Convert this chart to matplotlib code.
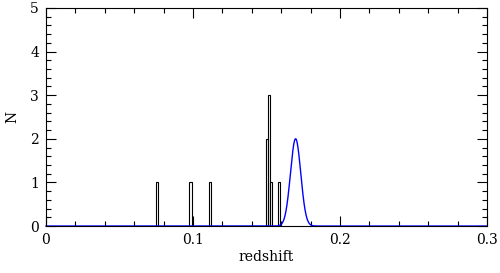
"""Redshift histogram with Gaussian fit."""

import matplotlib
matplotlib.use("Agg")
import matplotlib.pyplot as plt
import numpy as np
from matplotlib.ticker import MultipleLocator

# Histogram bins (left edge in redshift) and counts
bin_left = [0.0745, 0.0975, 0.1110, 0.1495, 0.1510, 0.1525, 0.1580]
counts = [1, 1, 1, 2, 3, 1, 1]
bin_width = 0.0015

# Gaussian fit to the main peak
fit_mean = 0.1698
fit_sigma = 0.0035
fit_amp = 2.0

x_ticks = [0, 0.1, 0.2, 0.3]
x_labels = ["0", "0.1", "0.2", "0.3"]
y_ticks = [0, 1, 2, 3, 4, 5]

plt.rcParams.update({
    "font.family": "DejaVu Serif",
    "font.size": 10,
})

fig = plt.figure(figsize=(5, 2.73), dpi=100)
ax = fig.add_axes([0.092, 0.172, 0.882, 0.799])

ax.bar(bin_left, counts, width=bin_width, align="edge", fill=False,
       edgecolor="black", linewidth=0.8)

z = np.linspace(0, 0.3, 3000)
model = fit_amp * np.exp(-0.5 * ((z - fit_mean) / fit_sigma) ** 2)
ax.plot(z, model, color="#0000ff", linewidth=1.0, clip_on=False)

ax.set_xlim(0, 0.3)
ax.set_ylim(0, 5)
ax.set_xticks(x_ticks, x_labels)
ax.set_yticks(y_ticks)
ax.xaxis.set_minor_locator(MultipleLocator(0.02))
ax.yaxis.set_minor_locator(MultipleLocator(0.2))
ax.tick_params(which="both", direction="in", top=True, right=True, width=0.8)
ax.tick_params(which="major", length=7, pad=5)
ax.tick_params(which="minor", length=3.5)
for s in ax.spines.values():
    s.set_linewidth(0.8)

ax.set_xlabel("redshift", labelpad=2)
ax.set_ylabel("N", labelpad=8)

fig.savefig("out.png", dpi=100)
